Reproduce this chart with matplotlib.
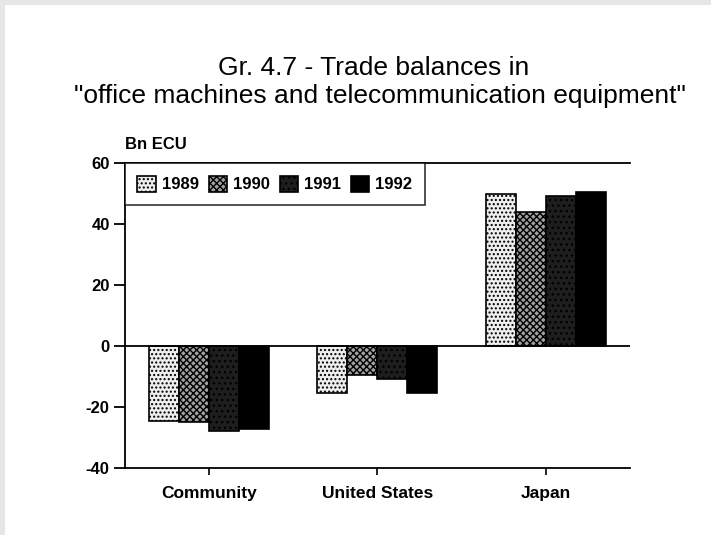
import matplotlib
matplotlib.use("Agg")
import matplotlib.pyplot as plt
import numpy as np
from matplotlib.patches import Rectangle

categories = ["Community", "United States", "Japan"]
years = ["1989", "1990", "1991", "1992"]
values = {
    "1989": [-24.5, -15.5, 50.0],
    "1990": [-25.0, -9.5, 44.0],
    "1991": [-28.0, -10.8, 49.2],
    "1992": [-27.2, -15.3, 50.5],
}
yticks = [-40, -20, 0, 20, 40, 60]

plt.rcParams['font.family'] = ['Liberation Sans', 'DejaVu Sans']

fig = plt.figure(figsize=(7.11, 5.35), dpi=100)
ax = fig.add_axes([0.1758, 0.1252, 0.710, 0.5701])

faces = ['#eeeeee', '#a0a0a0', '#1e1e1e', '#000000']
hatches = ['....', 'xxxxx', '...', None]
hcolors = ['#444444', '#222222', '#8a8a8a', '#000000']
x = np.arange(len(categories))
w = 0.178
for i, y in enumerate(years):
    plt.rcParams['hatch.color'] = hcolors[i]
    pos = x + (i - 1.5) * w
    ax.bar(pos, values[y], width=w, facecolor=faces[i], edgecolor='black',
           linewidth=1.2, label=y, zorder=3, hatch=hatches[i])

ax.set_xlim(-0.5, 2.5)
ax.set_ylim(-40, 60)
ax.set_yticks(yticks)
ax.set_yticklabels([str(t) for t in yticks], fontsize=12, fontweight='bold')
ax.set_xticks(x)
ax.set_xticklabels(categories, fontsize=12.5, fontweight='bold')
ax.tick_params(axis='x', length=5, width=1.2, direction='out', pad=8)
ax.tick_params(axis='y', length=8, width=1.3, direction='out', pad=3)
ax.axhline(0, color='black', linewidth=1.3, zorder=4)
ax.spines['right'].set_visible(False)
for s in ['left', 'top', 'bottom']:
    ax.spines[s].set_linewidth(1.3)

leg = ax.legend(loc='upper left', ncol=4, frameon=True, fancybox=False,
                edgecolor='black', borderaxespad=0, prop={'weight': 'bold', 'size': 12},
                handlelength=1.1, handleheight=1.1, handletextpad=0.35, columnspacing=0.6,
                borderpad=0.75)
leg.get_frame().set_linewidth(1.2)

ax.text(0, 1.035, "Bn ECU", transform=ax.transAxes, fontsize=12, fontweight='bold',
        ha='left', va='bottom')

fig.text(0.525, 0.873, "Gr. 4.7 - Trade balances in", ha='center', va='center', fontsize=19)
fig.text(0.535, 0.821, "\"office machines and telecommunication equipment\"", ha='center',
         va='center', fontsize=19)

# stippled border on top and left
plt.rcParams['hatch.color'] = '#888888'
fig.patches.append(Rectangle((0, 0.99), 1, 0.01, transform=fig.transFigure,
                             facecolor='#e6e6e6', edgecolor='none', hatch='....', zorder=0))
fig.patches.append(Rectangle((0, 0), 0.007, 1, transform=fig.transFigure,
                             facecolor='#e6e6e6', edgecolor='none', hatch='....', zorder=0))

fig.savefig("out.png", dpi=100)
